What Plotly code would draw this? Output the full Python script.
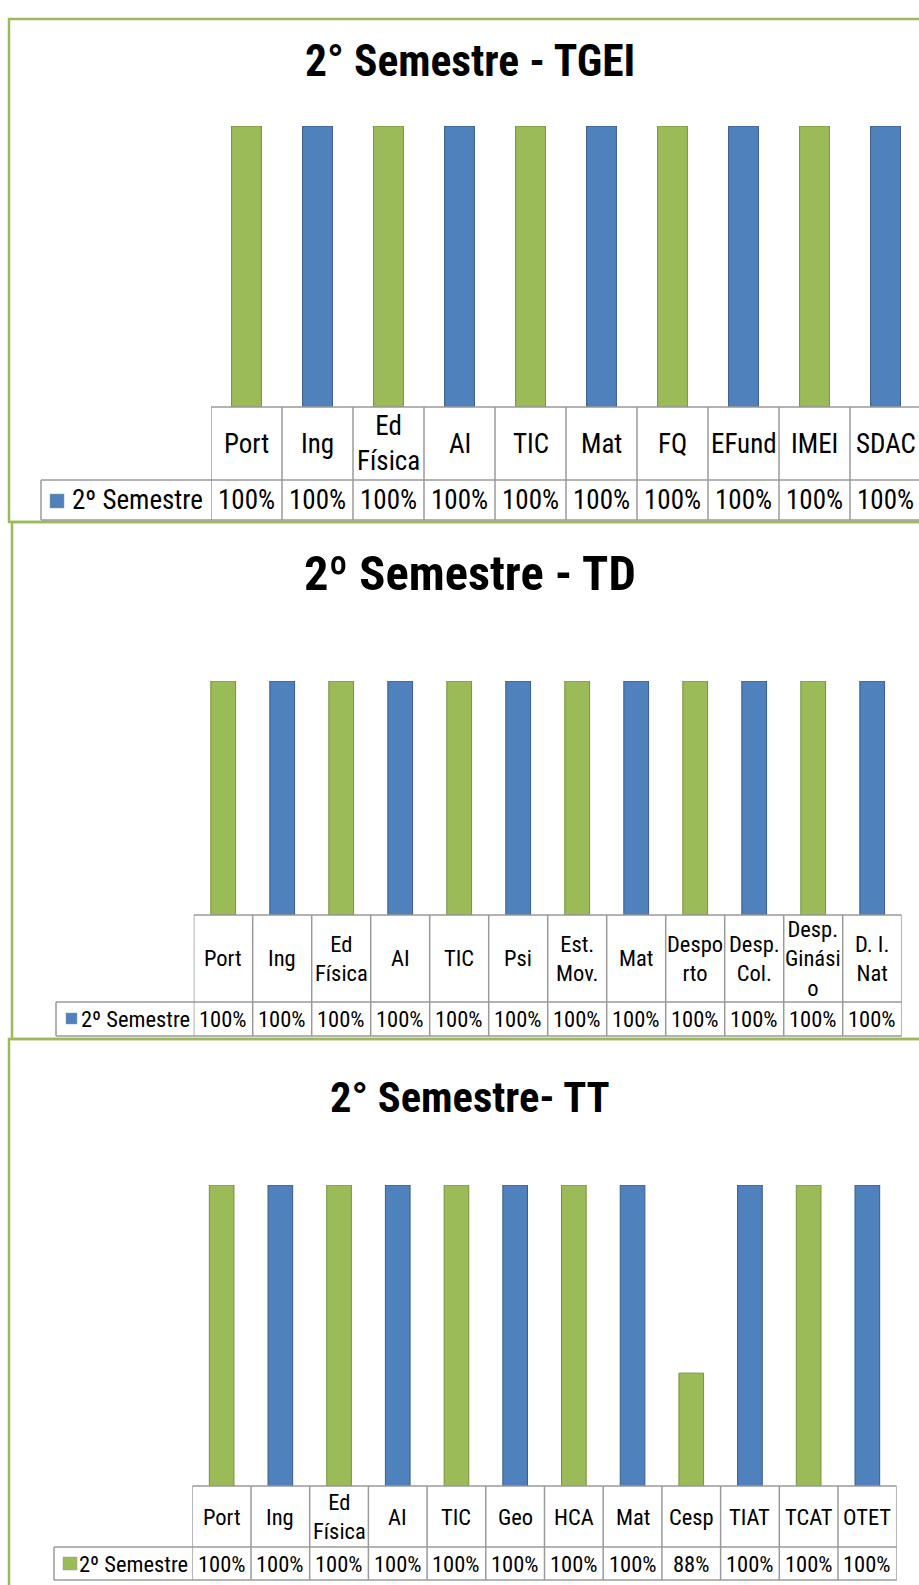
import plotly.graph_objects as go

# ---------------- data ----------------
series_name = "2º Semestre"

titles = ["2° Semestre - TGEI", "2º Semestre - TD", "2° Semestre- TT"]

cats1 = ["Port", "Ing", "Ed<br>Física", "AI", "TIC", "Mat", "FQ", "EFund", "IMEI", "SDAC"]
vals1 = [1.00, 1.00, 1.00, 1.00, 1.00, 1.00, 1.00, 1.00, 1.00, 1.00]

cats2 = ["Port", "Ing", "Ed<br>Física", "AI", "TIC", "Psi", "Est.<br>Mov.", "Mat",
         "Despo<br>rto", "Desp.<br>Col.", "Desp.<br>Ginási<br>o", "D. I.<br>Nat"]
vals2 = [1.00, 1.00, 1.00, 1.00, 1.00, 1.00, 1.00, 1.00, 1.00, 1.00, 1.00, 1.00]

cats3 = ["Port", "Ing", "Ed<br>Física", "AI", "TIC", "Geo", "HCA", "Mat",
         "Cesp", "TIAT", "TCAT", "OTET"]
vals3 = [1.00, 1.00, 1.00, 1.00, 1.00, 1.00, 1.00, 1.00, 0.875, 1.00, 1.00, 1.00]

# ---------------- layout helpers ----------------
W, H = 919, 1585
FONT = "Liberation Sans Narrow, Roboto Condensed, Liberation Sans, sans-serif"
GREEN, BLUE = "#9BBB59", "#4F81BD"
GREEN_D, BLUE_D = "#76923C", "#385D8A"
GRID = "#9A9A9A"
FRAME = "#9BBB59"


def X(px):
    return px / W


def Y(py):
    return 1 - py / H


charts = [
    dict(cats=cats1, vals=vals1, title=titles[0], tsize=43.5, ty=61,
         ymin=0.0, frame=(9, 19, 935, 522), lab_left=41, col0=211, colw=71,
         head_top=407, data_top=480, bottom=520, bar_top=126, fsize=27,
         key=(50, 494, 64, 508), key_col=BLUE, text_x=70, right=921),
    dict(cats=cats2, vals=vals2, title=titles[1], tsize=48.5, ty=573,
         ymin=0.0, frame=(12, 522, 935, 1039), lab_left=56, col0=193.7, colw=59,
         head_top=915, data_top=1002, bottom=1036, bar_top=681, fsize=22.5,
         key=(66, 1013, 77, 1024), key_col=BLUE, text_x=79, right=None),
    dict(cats=cats3, vals=vals3, title=titles[2], tsize=42.5, ty=1097,
         ymin=0.8, frame=(9, 1039, 935, 1600), lab_left=54, col0=192.3, colw=58.7,
         head_top=1486, data_top=1547, bottom=1580, bar_top=1185, fsize=22.5,
         key=(63, 1557, 77, 1570), key_col=GREEN, text_x=77, right=None),
]

fig = go.Figure()
shapes = []
annotations = []

for k, c in enumerate(charts):
    n = len(c["cats"])
    sfx = "" if k == 0 else str(k + 1)
    xname, yname = "x" + sfx, "y" + sfx
    right_px = c["right"] if c["right"] else c["col0"] + n * c["colw"]
    dom_right = min(right_px, W)
    xmax = -0.5 + (dom_right - c["col0"]) / c["colw"]
    xend = -0.5 + (right_px - c["col0"]) / c["colw"]

    colors = [GREEN if i % 2 == 0 else BLUE for i in range(n)]
    lcolors = [GREEN_D if i % 2 == 0 else BLUE_D for i in range(n)]
    fig.add_trace(go.Bar(
        x=list(range(n)), y=[v - c["ymin"] for v in c["vals"]],
        base=c["ymin"], xaxis=xname, yaxis=yname,
        marker=dict(color=colors, line=dict(color=lcolors, width=1)),
        width=0.42, showlegend=False, hoverinfo="skip"))

    fig.layout["xaxis" + sfx] = dict(
        domain=[X(c["col0"]), X(dom_right)], range=[-0.5, xmax],
        visible=False, anchor=yname, fixedrange=True)
    fig.layout["yaxis" + sfx] = dict(
        domain=[Y(c["head_top"]), Y(c["bar_top"])], range=[c["ymin"], 1.0],
        visible=False, anchor=xname, fixedrange=True)

    # chart frame
    fx0, fy0, fx1, fy1 = c["frame"]
    shapes.append(dict(type="rect", xref="paper", yref="paper",
                       x0=X(fx0), x1=X(fx1), y0=Y(fy1), y1=Y(fy0),
                       line=dict(color=FRAME, width=2.5), layer="below"))

    # title
    annotations.append(dict(text="<b>%s</b>" % c["title"], xref="paper", yref="paper",
                            x=X(470), y=Y(c["ty"]), showarrow=False,
                            font=dict(family=FONT, size=c["tsize"], color="black"),
                            xanchor="center", yanchor="middle"))

    # table grid
    line = dict(color=GRID, width=1.5)
    shapes.append(dict(type="line", xref=xname, yref="paper", x0=-0.5, x1=xend,
                       y0=Y(c["head_top"]), y1=Y(c["head_top"]), line=line))
    for yy in (c["data_top"], c["bottom"]):
        shapes.append(dict(type="line", xref="paper", yref="paper",
                           x0=X(c["lab_left"]), x1=X(right_px),
                           y0=Y(yy), y1=Y(yy), line=line))
    for i in range(n + 1):
        shapes.append(dict(type="line", xref=xname, yref="paper",
                           x0=i - 0.5, x1=i - 0.5,
                           y0=Y(c["bottom"]), y1=Y(c["head_top"]), line=line))
    shapes.append(dict(type="line", xref="paper", yref="paper",
                       x0=X(c["lab_left"]), x1=X(c["lab_left"]),
                       y0=Y(c["bottom"]), y1=Y(c["data_top"]), line=line))

    head_mid = Y((c["head_top"] + c["data_top"]) / 2)
    data_mid = Y((c["data_top"] + c["bottom"]) / 2)
    for i, (cat, v) in enumerate(zip(c["cats"], c["vals"])):
        annotations.append(dict(text=cat, xref=xname, yref="paper", x=i, y=head_mid,
                                showarrow=False, xanchor="center", yanchor="middle",
                                font=dict(family=FONT, size=c["fsize"], color="black")))
        annotations.append(dict(text="%d%%" % round(v * 100), xref=xname, yref="paper",
                                x=i, y=data_mid, showarrow=False,
                                xanchor="center", yanchor="middle",
                                font=dict(family=FONT, size=c["fsize"], color="black")))

    # legend key in table
    kx0, ky0, kx1, ky1 = c["key"]
    shapes.append(dict(type="rect", xref="paper", yref="paper",
                       x0=X(kx0), x1=X(kx1), y0=Y(ky1), y1=Y(ky0),
                       fillcolor=c["key_col"], line=dict(color=GRID, width=0.5)))
    annotations.append(dict(text=series_name, xref="paper", yref="paper",
                            x=X(c["text_x"]), y=data_mid, showarrow=False,
                            xanchor="left", yanchor="middle",
                            font=dict(family=FONT, size=c["fsize"], color="black")))

fig.update_layout(
    width=W, height=H, margin=dict(l=0, r=0, t=0, b=0),
    paper_bgcolor="white", plot_bgcolor="white",
    shapes=shapes, annotations=annotations, bargap=0.58,
)

fig.write_html(
    "out.html",
    config={"displayModeBar": False, "staticPlot": True},
    post_script="document.body.style.margin='0';"
                "document.body.style.overflow='hidden';"
                "document.documentElement.style.overflow='hidden';",
)
